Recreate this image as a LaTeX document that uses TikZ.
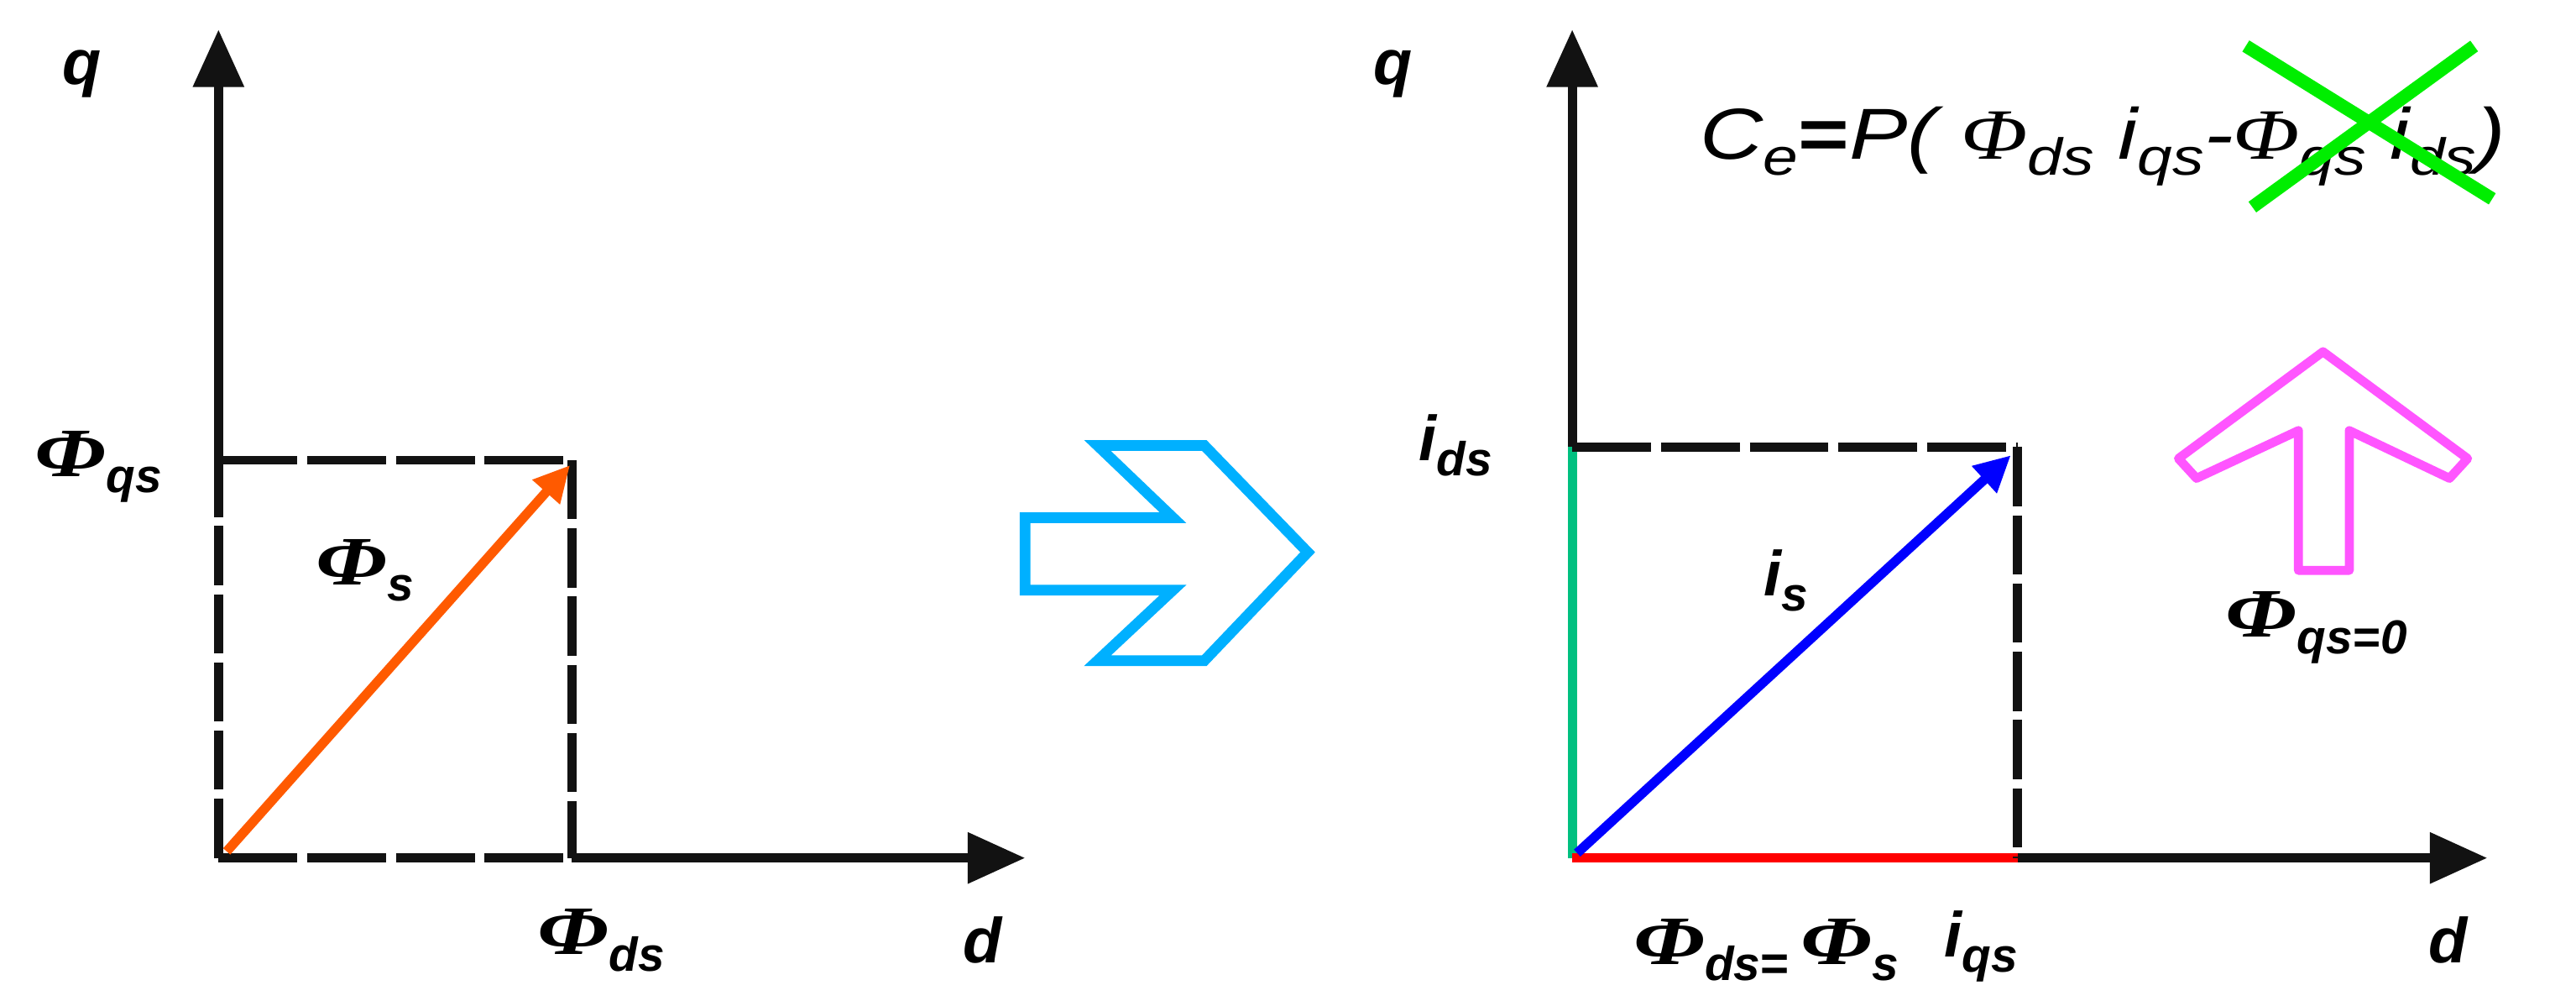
\documentclass[tikz,border=0pt]{standalone}
\usepackage{fontspec}
\setmainfont{Liberation Sans}
\newfontfamily\phifont{Liberation Serif}
\usetikzlibrary{arrows.meta}
\definecolor{cyanA}{RGB}{0,176,255}
\definecolor{pinkA}{RGB}{255,85,255}
\definecolor{greenX}{RGB}{0,238,0}
\definecolor{tealA}{RGB}{0,192,128}
\definecolor{orangeA}{RGB}{255,90,0}
\newcommand{\PhB}{\scalebox{1.3}[1]{\phifont\bfseries\itshape Φ}}
\newcommand{\PhN}{{\phifont\itshape Φ}}
\newcommand{\sbb}[1]{\raisebox{-0.45ex}{\fontsize{16.5}{16.5}\selectfont\bfseries\itshape #1}}
\newcommand{\sbn}[1]{\raisebox{-0.4ex}{\fontsize{18}{18}\selectfont #1}}
\begin{document}
\begin{tikzpicture}[x=0.2mm,y=-0.2mm,
  axis/.style={line width=1.1mm,black!93,-{Triangle[length=7mm,width=6mm]}},
  hdash/.style={line width=1.1mm,black!93,dash pattern=on 9.6mm off 1.2mm},
  vdash/.style={line width=1.1mm,black!93,dash pattern=on 7.2mm off 1.1mm},
  lbl/.style={font=\fontsize{22}{22}\selectfont\bfseries\itshape,inner sep=0pt},
  philbl/.style={font=\fontsize{24}{24}\selectfont,inner sep=0pt},
  vec/.style={line width=1.15mm,-{Triangle[length=4.4mm,width=4.2mm]}},
  outline/.style={line width=1.3mm,line join=miter}]
\useasboundingbox (0,0) rectangle (1568,609);
% ---------- left panel ----------
\coordinate (O1) at (133,522);
\coordinate (Q1) at (133,280);
\coordinate (P1) at (348,280);
\coordinate (D1) at (348,522);
\coordinate (T1q) at (133,18);
\coordinate (T1d) at (624,522);
\draw[axis] (Q1) -- (T1q);
\draw[axis] (D1) -- (T1d);
\draw[vdash] (O1) -- (Q1);
\draw[hdash] (Q1) -- (P1);
\draw[vdash] (P1) -- (D1);
\draw[hdash] (O1) -- (D1);
\coordinate (s1a) at (138,518);
\coordinate (s1b) at (347,283);
\draw[vec,orangeA] (s1a) -- (s1b);
\node[lbl] (q1) at (50,45) {q};
\node[philbl] (phqs) at (60,284) {\PhB\sbb{qs}};
\node[philbl] (phs) at (222,347) {\PhB\sbb{s}};
\node[philbl] (phds) at (366,572) {\PhB\sbb{ds}};
\node[lbl] (d1) at (598,572) {d};
% ---------- transition arrow ----------
\draw[outline,cyanA] (624,315) -- (714,315) -- (668,271) -- (733,271) -- (796,336)
  -- (733,402) -- (668,402) -- (714,359) -- (624,359) -- cycle;
% ---------- right panel ----------
\coordinate (O2) at (957,522);
\coordinate (Q2) at (957,272);
\coordinate (P2) at (1228,272);
\coordinate (D2) at (1228,522);
\coordinate (T2q) at (957,18);
\coordinate (T2d) at (1514,522);
\draw[axis] (Q2) -- (T2q);
\draw[axis] (D2) -- (T2d);
\draw[line width=1.1mm,tealA] (O2) -- (Q2);
\draw[line width=1.1mm,red] (O2) -- (D2);
\draw[hdash] (Q2) -- (P2);
\draw[vdash] (P2) -- (D2);
\coordinate (s2a) at (960,519);
\coordinate (s2b) at (1224,277);
\draw[vec,blue] (s2a) -- (s2b);
\node[lbl] (q2) at (848,45) {q};
\node[lbl] (ids) at (886,271) {i\sbb{ds}};
\node[lbl] (is) at (1087,353) {i\sbb{s}};
\node[philbl] (phdss) at (1075,578) {\PhB\sbb{ds}\raisebox{-0.45ex}{\fontsize{17}{17}\selectfont\bfseries =}\,\PhB\sbb{s}};
\node[lbl] (iqs) at (1206,576) {i\sbb{qs}};
\node[lbl] (d2) at (1490,572) {d};
% equation
\node[inner sep=0pt,anchor=base,font=\fontsize{25}{25}\selectfont\itshape] (eq) at (1280,97)
  {\resizebox{98mm}{\height}{C\sbn{e}{\upshape\bfseries =}P( \PhN\sbn{ds} i\sbn{qs}-\PhN\sbn{qs} i\sbn{ds})}};
\draw[line width=1.6mm,greenX] (1367,28) -- (1517,121);
\draw[line width=1.6mm,greenX] (1506,28) -- (1371,126);
% pink arrow
\draw[line width=1.1mm,pinkA,line join=round] (1414,214) -- (1502,279) -- (1491,291) -- (1430,262)
  -- (1430,347) -- (1399,347) -- (1399,262) -- (1337,291) -- (1326,279) -- cycle;
\node[philbl] (phq0) at (1410,382) {\PhB\sbb{qs=0}};
\end{tikzpicture}
\end{document}
